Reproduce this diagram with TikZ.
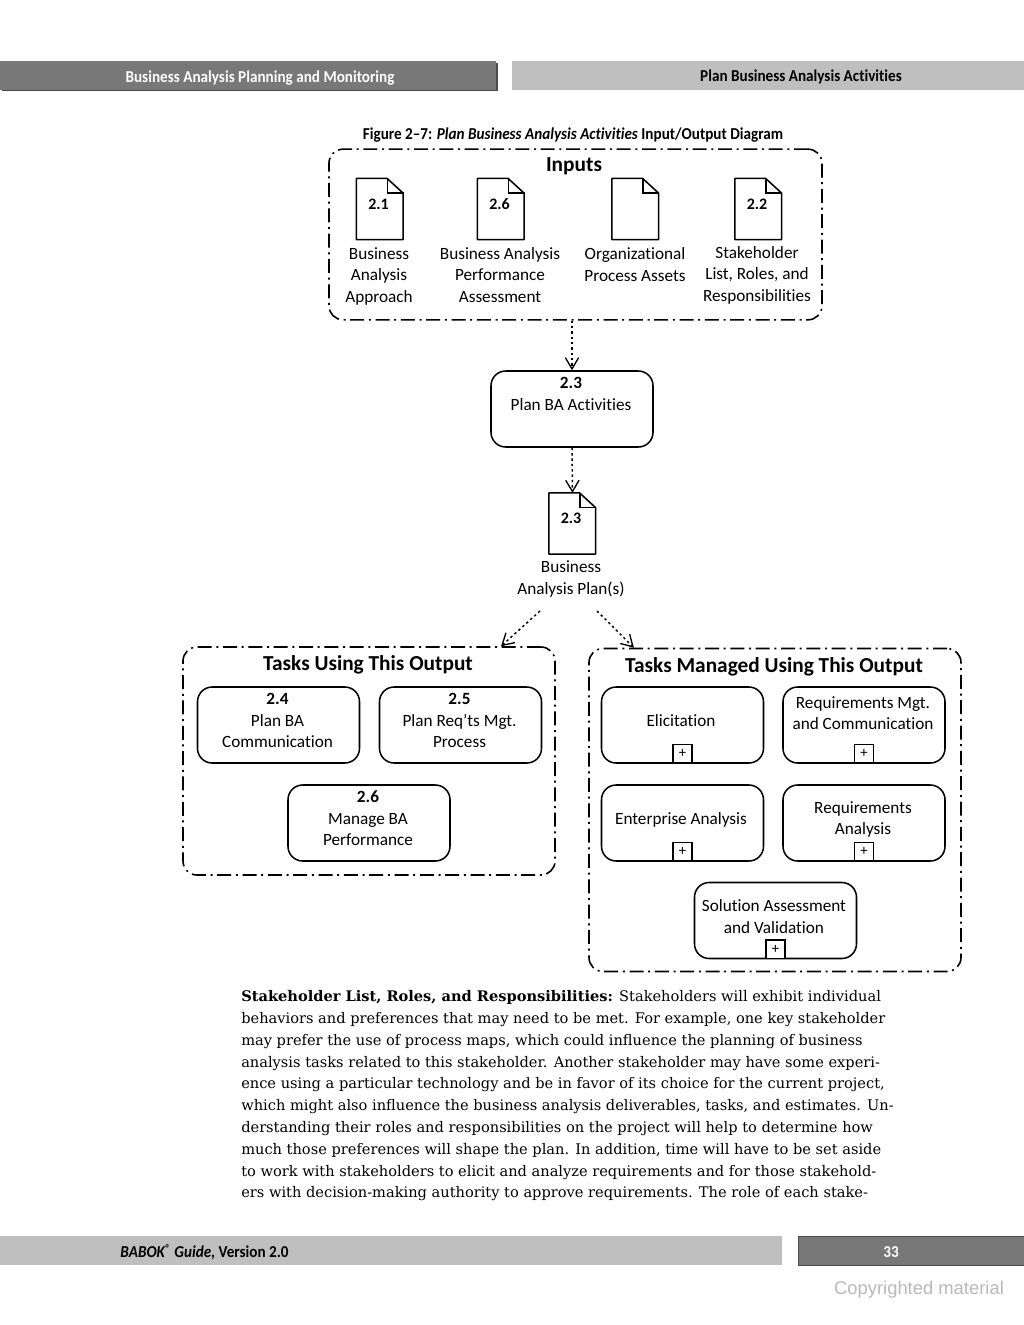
\documentclass[tikz,border=0pt]{standalone}
\usepackage{fontspec}
\setmainfont[Ligatures=NoCommon]{Carlito}
\newfontfamily\condfont[FakeStretch=0.91,Ligatures=NoCommon]{Carlito}
\newfontfamily\bodyfont{DejaVu Serif}
\newfontfamily\markfont{Liberation Sans}
\usetikzlibrary{arrows.meta,positioning}
\definecolor{bardark}{gray}{0.47}
\definecolor{barlight}{gray}{0.75}
\tikzset{%
  arrow/.style={line width=1.1pt,dash pattern=on 1.8pt off 2.2pt,-{Straight Barb[length=8.5pt,width=10pt,line width=1pt]}},
  groupbox/.style={draw,line width=1.2pt,rounded corners=10.5pt,dash pattern=on 10.5pt off 3.5pt on 1.5pt off 3.5pt},
  grouptitle/.style={font=\fontsize{16}{18}\selectfont\bfseries},
  taskbox/.style={draw,line width=1.15pt,rounded corners=11pt,minimum width=121.5pt,minimum height=57pt},
  boxtext/.style={align=center,inner sep=0pt,font=\fontsize{12.9}{16.1}\selectfont},
  plusbox/.style={draw,fill=white,line width=1.15pt,minimum size=14pt,inner sep=0pt,font=\fontsize{11}{11}\selectfont,anchor=south},
  docbox/.style={minimum width=35pt,minimum height=45.5pt,inner sep=0pt},
  docnum/.style={font=\fontsize{12}{14}\selectfont\bfseries,inner sep=0pt},
  bartext/.style={font=\fontsize{12.5}{15}\selectfont\condfont\bfseries,inner sep=0pt},
}
\newcommand{\docicon}[4]{%
  \node[docbox] (#1) at (#2,#3) {};
  \draw[line width=1.15pt,line join=round] (#1.north west) -- ++(23pt,0) -- ++(12pt,-11pt) |- (#1.south west) -- cycle;
  \draw[line width=1.15pt] (#1.north east) ++(-12pt,0) |- ++(12pt,-11pt);
  \node[docnum] (#1num) at (#2-1.5,#3-5) {#4};
}
\begin{document}
\begin{tikzpicture}[x=0.75pt,y=-0.75pt]
  \useasboundingbox (0,0) rectangle (1024,1325);

  % page bands
  \fill[black!70] (2,63) rectangle (498,91);
  \node[fill=bardark,draw=none,minimum width=372pt,minimum height=21.5pt,inner sep=0pt] (headleft) at (248,75.5) {};
  \node[bartext,text=white] (headlefttext) at (260,78) {Business Analysis Planning and Monitoring};
  \node[fill=barlight,minimum width=384pt,minimum height=22pt,inner sep=0pt] (headright) at (768,75.5) {};
  \node[bartext] (headrighttext) at (801,77) {Plan Business Analysis Activities};

  \node[bartext] (caption) at (573,135.5) {Figure 2–7: \textit{Plan Business Analysis Activities} Input/Output Diagram};

  % inputs
  \node[groupbox,minimum width=369.75pt,minimum height=128pt] (inputs) at (575.5,234.5) {};
  \node[grouptitle,inner sep=0pt] (inputstitle) at (574,166.5) {Inputs};
  \docicon{docapproach}{380}{209}{2.1}
  \docicon{docperf}{501}{209}{2.6}
  \docicon{docassets}{635.5}{209}{}
  \docicon{docstake}{758.5}{209}{2.2}
  \node[boxtext] (lblapproach) at (379,276) {Business\\Analysis\\Approach};
  \node[boxtext] (lblperf) at (500,275) {Business Analysis\\Performance\\Assessment};
  \node[boxtext] (lblassets) at (635,264.5) {Organizational\\Process Assets};
  \node[boxtext] (lblstake) at (757,275) {Stakeholder\\List, Roles, and\\Responsibilities};

  % task and its output
  \node[taskbox] (planact) at (572,409) {};
  \node[boxtext] (planacttext) at (571,394) {\textbf{2.3}\\Plan BA Activities};
  \docicon{docplan}{572.5}{523.5}{2.3}
  \node[boxtext] (lblplan) at (571,579) {Business\\Analysis Plan(s)};

  % tasks using this output
  \node[groupbox,minimum width=279pt,minimum height=171pt] (taskuse) at (369,761) {};
  \node[grouptitle,inner sep=0pt] (taskusetitle) at (368,665) {Tasks Using This Output};
  \node[taskbox] (commbox) at (278.5,725) {};
  \node[boxtext] (commtext) at (277.5,720.5) {\textbf{2.4}\\Plan BA\\Communication};
  \node[taskbox] (procbox) at (460.5,725) {};
  \node[boxtext] (proctext) at (459.5,720.5) {\textbf{2.5}\\Plan Req'ts Mgt.\\Process};
  \node[taskbox] (perfbox) at (369,823) {};
  \node[boxtext] (perftext) at (368,818.5) {\textbf{2.6}\\Manage BA\\Performance};

  % tasks managed using this output
  \node[groupbox,minimum width=279pt,minimum height=242.25pt] (taskmgd) at (775,810) {};
  \node[grouptitle,inner sep=0pt] (taskmgdtitle) at (774,667) {Tasks Managed Using This Output};
  \node[taskbox] (elicbox) at (682.5,725) {};
  \node[boxtext] (elictext) at (681,720.5) {Elicitation};
  \node[plusbox] (elicplus) at (elicbox.south) {+};
  \node[taskbox] (rmcbox) at (864,725) {};
  \node[boxtext] (rmctext) at (863,713) {Requirements Mgt.\\and Communication};
  \node[plusbox] (rmcplus) at (rmcbox.south) {+};
  \node[taskbox] (entbox) at (682.5,823) {};
  \node[boxtext] (enttext) at (681,820) {Enterprise Analysis};
  \node[plusbox] (entplus) at (entbox.south) {+};
  \node[taskbox] (rabox) at (864,823) {};
  \node[boxtext] (ratext) at (863,819.5) {Requirements\\Analysis};
  \node[plusbox] (raplus) at (rabox.south) {+};
  \node[taskbox] (savbox) at (775.5,920.5) {};
  \node[boxtext] (savtext) at (774,916.5) {Solution Assessment\\and Validation};
  \node[plusbox] (savplus) at (savbox.south) {+};

  \coordinate (planleft) at (540,611);
  \coordinate (planright) at (597,611);
  \draw[arrow] (planact.north |- inputs.south) -- (planact.north);
  \draw[arrow] (planact.south) -- (docplan.north);
  \draw[arrow] (planleft) -- (taskuse.41.5);
  \draw[arrow] (planright) -- (taskmgd.131.4);

  % body text
  \node[anchor=north west,align=left,inner sep=0pt,font=\fontsize{10.95}{16.33}\selectfont\bodyfont] (bodytext) at (241,990.5) {%
    \textbf{Stakeholder List, Roles, and Responsibilities:} Stakeholders will exhibit individual\\
    behaviors and preferences that may need to be met. For example, one key stakeholder\\
    may prefer the use of process maps, which could influence the planning of business\\
    analysis tasks related to this stakeholder. Another stakeholder may have some experi-\\
    ence using a particular technology and be in favor of its choice for the current project,\\
    which might also influence the business analysis deliverables, tasks, and estimates. Un-\\
    derstanding their roles and responsibilities on the project will help to determine how\\
    much those preferences will shape the plan. In addition, time will have to be set aside\\
    to work with stakeholders to elicit and analyze requirements and for those stakehold-\\
    ers with decision-making authority to approve requirements. The role of each stake-};

  % footer
  \node[fill=barlight,minimum width=586.5pt,minimum height=22pt,inner sep=0pt] (footleft) at (391,1250.5) {};
  \node[bartext] (foottext) at (204.5,1252) {\textit{BABOK\textsuperscript{\textregistered} Guide,} Version 2.0};
  \node[fill=bardark,draw=black!70,minimum width=170pt,minimum height=22pt,inner sep=0pt] (footright) at (912,1250.5) {};
  \node[bartext,text=white] (pagenum) at (891,1252) {33};
  \node[text=black!28,inner sep=0pt,font=\fontsize{13.8}{16}\selectfont\markfont] (copymark) at (919,1289.5) {Copyrighted material};
\end{tikzpicture}
\end{document}
